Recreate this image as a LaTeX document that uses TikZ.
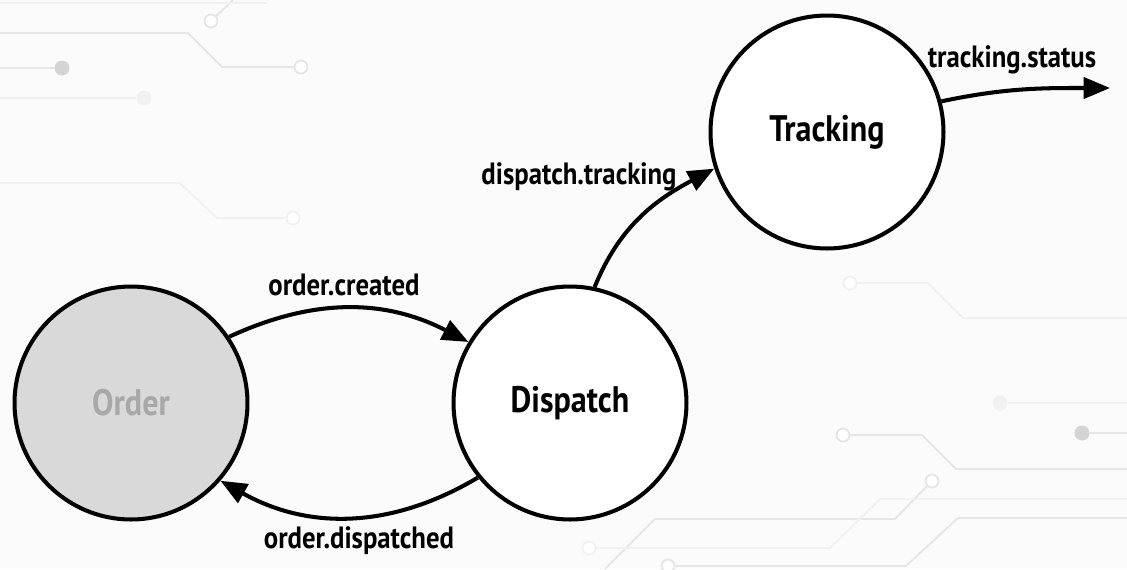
\documentclass[tikz,border=0pt]{standalone}
\usepackage{fontspec}
\newfontfamily\hand{PT Sans}[FakeStretch=0.87]
\usetikzlibrary{arrows.meta}
\definecolor{bgc}{HTML}{FBFBFB}
\definecolor{trc}{HTML}{E6E6E6}
\definecolor{trf}{HTML}{F1F1F1}
\definecolor{padc}{HTML}{D4D4D4}
\definecolor{ordfill}{HTML}{D9D9D9}
\definecolor{ordtext}{HTML}{A8A8A8}
\tikzset{
  trace/.style={draw=trc, line width=1.1pt},
  ftrace/.style={draw=trf, line width=1.1pt},
  pad/.style={circle, draw=trc, fill=white, line width=1.1pt, minimum size=0.26cm, inner sep=0pt},
  fpad/.style={circle, draw=trf, fill=white, line width=1.1pt, minimum size=0.26cm, inner sep=0pt},
  dot/.style={circle, fill=padc, minimum size=0.3cm, inner sep=0pt},
  fdot/.style={circle, fill=trf, minimum size=0.3cm, inner sep=0pt},
  state/.style={circle, draw=black, line width=2.3pt, minimum size=4.66cm, inner sep=0pt,
    font=\hand\bfseries\fontsize{21}{25}\selectfont},
  flow/.style={draw=black, line width=2.3pt, -{Triangle[length=15pt, width=12pt]}},
  lbl/.style={font=\hand\bfseries\fontsize{17.5}{21}\selectfont, inner sep=0pt}
}
\begin{document}
\begin{tikzpicture}[x=0.02cm, y=-0.02cm]
\path[fill=bgc, use as bounding box] (0,0) rectangle (1127,569);
% background circuit traces
\node[pad] (p1) at (211,21) {};
\draw[trace] (p1) -- (233,0);
\draw[ftrace] (0,3) -- (267,3);
\node[pad] (p2) at (301,67) {};
\draw[trace] (0,33) -- (188,33) -- (222,67) -- (p2);
\node[dot] (d1) at (62,68) {};
\draw[trace] (0,68) -- (d1);
\node[fdot] (d2) at (144,98) {};
\draw[ftrace] (0,98) -- (d2);
\node[fpad] (p3) at (293,218) {};
\draw[ftrace] (0,183) -- (180,183) -- (217,218) -- (p3);
\node[fpad] (p4) at (850,283) {};
\draw[ftrace] (p4) -- (928,283) -- (963,318) -- (1127,318);
\node[fdot] (d3) at (1000,403) {};
\draw[ftrace] (d3) -- (1127,403);
\node[dot] (d4) at (1082,433) {};
\draw[trace] (d4) -- (1127,433);
\node[pad] (p5) at (843,435) {};
\draw[trace] (p5) -- (922,435) -- (956,469) -- (1127,469);
\node[pad] (p6) at (932,481) {};
\draw[trace] (p6) -- (895,519) -- (655,519) -- (605,569);
\node[fpad] (p7) at (589,548) {};
\draw[ftrace] (p7) -- (830,548) -- (880,499) -- (1127,499);
\node[pad] (p8) at (668,566) {};
\draw[trace] (p8) -- (906,566) -- (958,518) -- (1127,518);
% states
\node[state, fill=ordfill, text=ordtext] (order) at (131,403) {Order};
\node[state, fill=white] (dispatch) at (570,403) {Dispatch};
\node[state, fill=white] (tracking) at (827,132) {Tracking};
\coordinate (out) at (1110,88);
% flows
\draw[flow] (order.34) to[bend left=26] (dispatch.149);
\draw[flow] (dispatch.219) to[bend left=30] (order.319);
\draw[flow] (dispatch.78) to[out=68, in=208] (tracking.198);
\draw[flow] (tracking.15) to[out=12, in=180] (out);
% labels
\node[lbl] (l1) at (344,285) {order.created};
\node[lbl] (l2) at (359,541) {order.dispatched};
\node[lbl] (l3) at (579,177) {dispatch.tracking};
\node[lbl] (l4) at (1012,60) {tracking.status};
\end{tikzpicture}
\end{document}
